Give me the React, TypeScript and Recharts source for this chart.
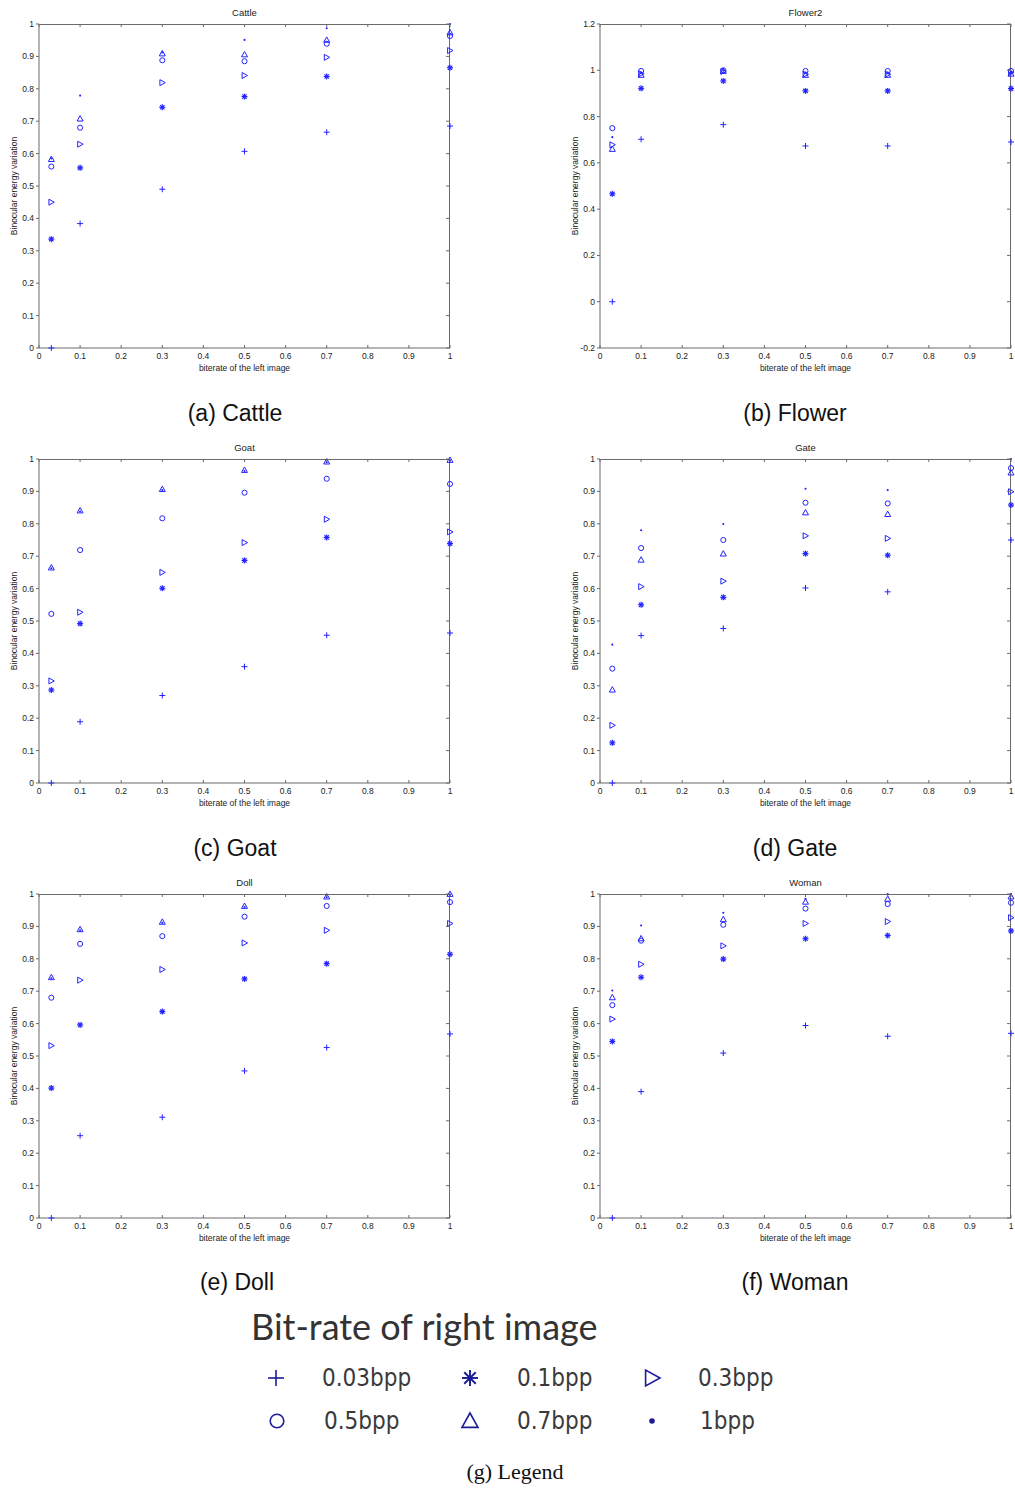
import React from 'react';
import { ScatterChart, Scatter, XAxis, YAxis } from 'recharts';

// left-image bitrates (x) and right-image bitrates (series)
const X_VALUES = [0.03, 0.1, 0.3, 0.5, 0.7, 1];
const SERIES_NAMES = ['0.03bpp', '0.1bpp', '0.3bpp', '0.5bpp', '0.7bpp', '1bpp'];
const SERIES_MARKERS = ['plus', 'star', 'triRight', 'circle', 'triUp', 'dot'];

const X_TICKS = [0, 0.1, 0.2, 0.3, 0.4, 0.5, 0.6, 0.7, 0.8, 0.9, 1];
const Y_TICKS = [0, 0.1, 0.2, 0.3, 0.4, 0.5, 0.6, 0.7, 0.8, 0.9, 1];
const Y_TICKS_FLOWER = [-0.2, 0, 0.2, 0.4, 0.6, 0.8, 1, 1.2];

// one row per right-image bitrate, one value per left-image bitrate
const CATTLE = [
  [0, 0.384, 0.49, 0.607, 0.666, 0.685],
  [0.336, 0.556, 0.743, 0.776, 0.838, 0.865],
  [0.45, 0.629, 0.819, 0.841, 0.897, 0.918],
  [0.56, 0.68, 0.888, 0.885, 0.939, 0.963],
  [0.583, 0.708, 0.909, 0.906, 0.951, 0.974],
  [0.585, 0.779, 0.912, 0.951, 0.987, 1.0],
];
const FLOWER = [
  [0, 0.702, 0.765, 0.673, 0.673, 0.69],
  [0.466, 0.922, 0.954, 0.911, 0.911, 0.921],
  [0.678, 0.985, 0.995, 0.983, 0.983, 0.99],
  [0.75, 0.997, 1.0, 0.997, 0.997, 0.997],
  [0.66, 0.98, 0.997, 0.98, 0.98, 0.985],
  [0.711, 0.99, 0.998, 0.99, 0.99, 0.99],
];
const GOAT = [
  [0, 0.189, 0.27, 0.359, 0.456, 0.463],
  [0.287, 0.492, 0.601, 0.687, 0.758, 0.739],
  [0.315, 0.527, 0.65, 0.742, 0.814, 0.775],
  [0.522, 0.719, 0.817, 0.896, 0.939, 0.923],
  [0.665, 0.841, 0.907, 0.966, 0.992, 0.997],
  [0.663, 0.838, 0.904, 0.963, 0.99, 0.995],
];
const GATE = [
  [0, 0.455, 0.477, 0.602, 0.59, 0.75],
  [0.124, 0.55, 0.573, 0.708, 0.703, 0.858],
  [0.178, 0.606, 0.623, 0.763, 0.755, 0.899],
  [0.353, 0.725, 0.75, 0.865, 0.863, 0.972],
  [0.288, 0.689, 0.708, 0.835, 0.83, 0.958],
  [0.427, 0.78, 0.799, 0.908, 0.904, 1.0],
];
const DOLL = [
  [0, 0.254, 0.311, 0.454, 0.526, 0.568],
  [0.401, 0.596, 0.637, 0.738, 0.785, 0.814],
  [0.532, 0.734, 0.767, 0.849, 0.888, 0.909],
  [0.68, 0.846, 0.87, 0.93, 0.963, 0.975],
  [0.743, 0.891, 0.914, 0.963, 0.992, 1.0],
  [0.74, 0.888, 0.911, 0.96, 0.99, 0.998],
];
const WOMAN = [
  [0, 0.39, 0.509, 0.594, 0.561, 0.57],
  [0.545, 0.743, 0.799, 0.862, 0.872, 0.886],
  [0.614, 0.783, 0.84, 0.909, 0.915, 0.927],
  [0.657, 0.856, 0.905, 0.955, 0.969, 0.973],
  [0.681, 0.863, 0.922, 0.976, 0.985, 0.992],
  [0.702, 0.903, 0.942, 0.985, 1.0, 1.0],
];

const BLUE = '#2323ff';
const AXIS = '#6a6a6a';
const SANS = '"Liberation Sans", Arial, sans-serif';

// plot box inside each panel
const PLOT_TOP = 24;
const PLOT_W = 411;
const PLOT_H = 324;

const drawMarker = (kind: string, cx: number, cy: number, color: string, s: number, sw = 1) => {
  switch (kind) {
    case 'plus':
      return (
        <g stroke={color} strokeWidth={sw}>
          <line x1={cx - s} y1={cy} x2={cx + s} y2={cy} />
          <line x1={cx} y1={cy - s} x2={cx} y2={cy + s} />
        </g>
      );
    case 'star': {
      const d = s * 0.72;
      return (
        <g stroke={color} strokeWidth={sw * 1.2}>
          <line x1={cx - s} y1={cy} x2={cx + s} y2={cy} />
          <line x1={cx} y1={cy - s} x2={cx} y2={cy + s} />
          <line x1={cx - d} y1={cy - d} x2={cx + d} y2={cy + d} />
          <line x1={cx - d} y1={cy + d} x2={cx + d} y2={cy - d} />
        </g>
      );
    }
    case 'triRight':
      return (
        <polygon
          points={`${cx - s * 0.8},${cy - s} ${cx - s * 0.8},${cy + s} ${cx + s},${cy}`}
          fill="none"
          stroke={color}
          strokeWidth={sw}
        />
      );
    case 'circle':
      return <circle cx={cx} cy={cy} r={s * 0.85} fill="none" stroke={color} strokeWidth={sw} />;
    case 'triUp':
      return (
        <polygon
          points={`${cx},${cy - s} ${cx - s},${cy + s * 0.8} ${cx + s},${cy + s * 0.8}`}
          fill="none"
          stroke={color}
          strokeWidth={sw}
        />
      );
    default:
      return <circle cx={cx} cy={cy} r={s * 0.35} fill={color} />;
  }
};

const markerShape = (kind: string) => (props: any) => {
  const { cx, cy } = props;
  if (cx == null || cy == null) return <g />;
  return drawMarker(kind, cx, cy, BLUE, 3);
};

// x tick: label below the axis plus inward marks on bottom and top edges
const XTick = (props: any) => {
  const { x, y, payload } = props;
  const bottom = PLOT_TOP + PLOT_H;
  return (
    <g>
      <line x1={x} y1={bottom} x2={x} y2={bottom - 3} stroke={AXIS} />
      <line x1={x} y1={PLOT_TOP} x2={x} y2={PLOT_TOP + 3} stroke={AXIS} />
      <text x={x} y={y} dy="0.71em" textAnchor="middle" fontSize={8.5} fill="#222" fontFamily={SANS}>
        {payload.value}
      </text>
    </g>
  );
};

// y tick: label left of the axis plus an inward mark on the right edge
const makeYTick = (plotRight: number) => (props: any) => {
  const { x, y, payload } = props;
  return (
    <g>
      <line x1={plotRight} y1={y} x2={plotRight - 4} y2={y} stroke={AXIS} />
      <text x={x} y={y} dy="0.35em" textAnchor="end" fontSize={8.5} fill="#222" fontFamily={SANS}>
        {payload.value}
      </text>
    </g>
  );
};

interface PanelProps {
  title: string;
  values: number[][];
  yDomain: [number, number];
  yTicks: number[];
  left: number;
  top: number;
  plotLeft: number;
  width: number;
}

const Panel: React.FC<PanelProps> = ({ title, values, yDomain, yTicks, left, top, plotLeft, width }) => (
  <div style={{ position: 'absolute', left, top, width, height: 385 }}>
    <div
      style={{
        position: 'absolute',
        top: 7,
        left: plotLeft,
        width: PLOT_W,
        textAlign: 'center',
        fontFamily: SANS,
        fontSize: 9.5,
        lineHeight: '12px',
        color: '#222',
      }}
    >
      {title}
    </div>
    {/* top and right edges of the box */}
    <div
      style={{
        position: 'absolute',
        left: plotLeft,
        top: PLOT_TOP,
        width: PLOT_W,
        height: PLOT_H,
        borderTop: `1px solid ${AXIS}`,
        borderRight: `1px solid ${AXIS}`,
        boxSizing: 'border-box',
        pointerEvents: 'none',
      }}
    />
    <ScatterChart width={width} height={385} margin={{ top: PLOT_TOP, right: width - plotLeft - PLOT_W, left: plotLeft - 25, bottom: 0 }}>
      <XAxis
        type="number"
        dataKey="x"
        domain={[0, 1]}
        ticks={X_TICKS}
        interval={0}
        height={37}
        stroke={AXIS}
        tickLine={false}
        tickSize={0}
        tickMargin={5}
        tick={XTick}
        label={{ value: 'biterate of the left image', position: 'insideBottom', offset: 14, style: { fontSize: 8.5, fill: '#222', fontFamily: SANS } }}
      />
      <YAxis
        type="number"
        dataKey="y"
        domain={yDomain}
        ticks={yTicks}
        interval={0}
        width={25}
        stroke={AXIS}
        tickSize={3}
        tickMargin={2}
        tick={makeYTick(plotLeft + PLOT_W)}
        label={{ value: 'Binocular energy variation', angle: -90, position: 'insideLeft', offset: 0, style: { textAnchor: 'middle', fontSize: 8.5, fill: '#222', fontFamily: SANS } }}
      />
      {values.map((row, i) => (
        <Scatter
          key={SERIES_NAMES[i]}
          name={SERIES_NAMES[i]}
          data={X_VALUES.map((x, j) => ({ x, y: row[j] }))}
          shape={markerShape(SERIES_MARKERS[i])}
          isAnimationActive={false}
        />
      ))}
    </ScatterChart>
  </div>
);

const Caption: React.FC<{ text: string; cx: number; cy: number }> = ({ text, cx, cy }) => (
  <div
    style={{
      position: 'absolute',
      left: cx - 150,
      top: cy - 14,
      width: 300,
      textAlign: 'center',
      fontFamily: SANS,
      fontSize: 23,
      lineHeight: '28px',
      color: '#111',
    }}
  >
    {text}
  </div>
);

const LEGEND_POS = [
  { mx: 276, my: 1378, tx: 322 },
  { mx: 470, my: 1378, tx: 517 },
  { mx: 652, my: 1378, tx: 698 },
  { mx: 277, my: 1421, tx: 324 },
  { mx: 470, my: 1421, tx: 517 },
  { mx: 652, my: 1421, tx: 700 },
];

const LegendBlock: React.FC = () => (
  <>
    <div
      style={{
        position: 'absolute',
        left: 251,
        top: 1305,
        fontFamily: 'Lato, "Open Sans", sans-serif',
        fontSize: 36,
        lineHeight: '42px',
        color: '#333',
        whiteSpace: 'nowrap',
      }}
    >
      Bit-rate of right image
    </div>
    <svg width={1015} height={110} style={{ position: 'absolute', left: 0, top: 1350 }}>
      {SERIES_MARKERS.map((m, i) => (
        <g key={m}>{drawMarker(m, LEGEND_POS[i].mx, LEGEND_POS[i].my - 1350, '#1c1c96', 8, 1.6)}</g>
      ))}
    </svg>
    {SERIES_NAMES.map((n, i) => (
      <div
        key={n}
        style={{
          position: 'absolute',
          left: LEGEND_POS[i].tx,
          top: LEGEND_POS[i].my - 15,
          fontFamily: '"DejaVu Sans Condensed", "DejaVu Sans", sans-serif',
          fontStretch: 'condensed',
          fontSize: 24,
          lineHeight: '30px',
          color: '#3a3a3a',
          whiteSpace: 'nowrap',
        }}
      >
        {n}
      </div>
    ))}
    <div
      style={{
        position: 'absolute',
        left: 365,
        top: 1458,
        width: 300,
        textAlign: 'center',
        fontFamily: '"Liberation Serif", "Times New Roman", serif',
        fontSize: 22,
        lineHeight: '28px',
        color: '#111',
      }}
    >
      (g) Legend
    </div>
  </>
);

const App: React.FC = () => (
  <div style={{ position: 'absolute', left: 0, top: 0, width: 1015, height: 1488, background: '#fff', overflow: 'hidden' }}>
    <Panel title="Cattle" values={CATTLE} yDomain={[0, 1]} yTicks={Y_TICKS} left={0} top={0} plotLeft={39} width={470} />
    <Panel title="Flower2" values={FLOWER} yDomain={[-0.2, 1.2]} yTicks={Y_TICKS_FLOWER} left={560} top={0} plotLeft={40} width={455} />
    <Panel title="Goat" values={GOAT} yDomain={[0, 1]} yTicks={Y_TICKS} left={0} top={435} plotLeft={39} width={470} />
    <Panel title="Gate" values={GATE} yDomain={[0, 1]} yTicks={Y_TICKS} left={560} top={435} plotLeft={40} width={455} />
    <Panel title="Doll" values={DOLL} yDomain={[0, 1]} yTicks={Y_TICKS} left={0} top={870} plotLeft={39} width={470} />
    <Panel title="Woman" values={WOMAN} yDomain={[0, 1]} yTicks={Y_TICKS} left={560} top={870} plotLeft={40} width={455} />
    <Caption text="(a) Cattle" cx={235} cy={413} />
    <Caption text="(b) Flower" cx={795} cy={413} />
    <Caption text="(c) Goat" cx={235} cy={848} />
    <Caption text="(d) Gate" cx={795} cy={848} />
    <Caption text="(e) Doll" cx={237} cy={1282} />
    <Caption text="(f) Woman" cx={795} cy={1282} />
    <LegendBlock />
  </div>
);

export default App;
